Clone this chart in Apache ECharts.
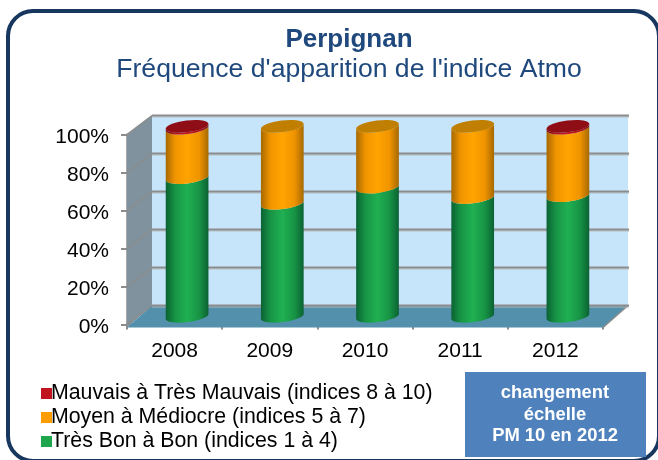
<!DOCTYPE html>
<html>
<head>
<meta charset="utf-8">
<style>
  html, body { margin: 0; padding: 0; background: #fff; }
  #chart { width: 658px; height: 460px; }
</style>
<script src="https://cdn.jsdelivr.net/npm/echarts@6/dist/echarts.min.js"></script>
</head>
<body>
<div id="chart"></div>
<script>
// valeurs (%)
const years = ['2008', '2009', '2010', '2011', '2012']
const tresBon = [73, 59.5, 68, 62.5, 63.5]
const moyen = [26, 40.5, 32, 37.5, 35.5]
const mauvais = [1, 0, 0, 0, 1]
const yTicks = [0, 20, 40, 60, 80, 100]

const FONT = '"Liberation Sans", Arial, sans-serif'
// décalage de la perspective (mur du fond par rapport au plan avant)
const DEPTH_X = 25
const DEPTH_Y = -19
const AXIS_GREY = '#8c8c8c'

const chart = echarts.init(document.getElementById('chart'))

// fond 3D : mur gauche, mur du fond, sol
const renderWalls = (params, api) => {
  const g = params.coordSys
  const x0 = g.x, x1 = g.x + g.width, yTop = g.y, yBot = g.y + g.height
  const poly = (points, fill) => ({ type: 'polygon', shape: { points }, style: { fill } })
  return {
    type: 'group',
    children: [
      poly([[x0, yTop], [x0 + DEPTH_X, yTop + DEPTH_Y], [x0 + DEPTH_X, yBot + DEPTH_Y], [x0, yBot + 3]], '#7f929e'),
      poly([[x0 + DEPTH_X, yTop + DEPTH_Y], [x1 + DEPTH_X, yTop + DEPTH_Y], [x1 + DEPTH_X, yBot + DEPTH_Y], [x0 + DEPTH_X, yBot + DEPTH_Y]], '#c6e4fa'),
      poly([[x0 + DEPTH_X, yBot + DEPTH_Y], [x1 + DEPTH_X, yBot + DEPTH_Y], [x1, yBot + 3], [x0, yBot + 3]], '#5290ac'),
      {
        type: 'line',
        shape: { x1: x1 + DEPTH_X, y1: yBot + DEPTH_Y, x2: x1, y2: yBot + 3 },
        style: { stroke: AXIS_GREY, lineWidth: 1.5 }
      }
    ]
  }
}

// lignes de grille sur le mur gauche et le mur du fond
const renderGridLine = (params, api) => {
  const g = params.coordSys
  const y = api.coord([0, api.value(0)])[1]
  const x0 = g.x, x1 = g.x + g.width
  const line = (a, b, c, w) => ({
    type: 'line',
    shape: { x1: a[0], y1: a[1], x2: b[0], y2: b[1] },
    style: { stroke: c, lineWidth: w }
  })
  const by = y + DEPTH_Y
  return {
    type: 'group',
    children: [
      line([x0 + DEPTH_X, by + 1.5], [x1 + DEPTH_X + 1, by + 1.5], '#b4bcc2', 1),
      line([x0 + DEPTH_X, by], [x1 + DEPTH_X + 1, by], AXIS_GREY, 2),
      line([x0, y], [x0 + DEPTH_X, by], AXIS_GREY, 1.5)
    ]
  }
}

// tronçon de cylindre entre deux valeurs empilées
const cylinder = (colors, topColor) => (params, api) => {
  const base = api.value(1), top = api.value(2)
  if (top <= base) return null
  const cat = api.value(0)
  const bandW = api.size([1, 0])[0]
  const rx = bandW * 0.226, ry = 5.8, rot = -7
  const dx = DEPTH_X / 2, dy = DEPTH_Y * 0.43
  const pb = api.coord([cat, base])
  const pt = api.coord([cat, top])
  const cx = pb[0] + dx
  const yb = pb[1] + dy, yt = pt[1] + dy
  const ex = rx * Math.cos(rot * Math.PI / 180)
  const ey = rx * Math.sin(rot * Math.PI / 180)
  const body = 'M' + (cx - ex) + ' ' + (yt - ey)
    + ' L' + (cx - ex) + ' ' + (yb - ey)
    + ' A' + rx + ' ' + ry + ' ' + rot + ' 0 0 ' + (cx + ex) + ' ' + (yb + ey)
    + ' L' + (cx + ex) + ' ' + (yt + ey)
    + ' A' + rx + ' ' + ry + ' ' + rot + ' 0 1 ' + (cx - ex) + ' ' + (yt - ey) + ' Z'
  const children = [{
    type: 'path',
    shape: { pathData: body },
    style: {
      fill: new echarts.graphic.LinearGradient(0, 0, 1, 0, [
        { offset: 0, color: colors[0] },
        { offset: 0.22, color: colors[1] },
        { offset: 0.5, color: colors[2] },
        { offset: 0.78, color: colors[1] },
        { offset: 1, color: colors[0] }
      ])
    }
  }]
  if (topColor && (api.value(3) === 1)) {
    children.push({
      type: 'ellipse',
      shape: { cx: 0, cy: 0, rx, ry },
      x: cx, y: yt,
      rotation: -rot * Math.PI / 180,
      style: { fill: topColor }
    })
  }
  return { type: 'group', children }
}

// données empilées : [catégorie, début, fin, dessus visible]
const greenData = years.map((y, i) => [i, 0, tresBon[i], 0])
const orangeData = years.map((y, i) => [i, tresBon[i], tresBon[i] + moyen[i], mauvais[i] === 0 ? 1 : 0])
const redData = years.map((y, i) => [i, tresBon[i] + moyen[i], tresBon[i] + moyen[i] + mauvais[i], 1])

const option = {
  animation: false,
  title: {
    text: 'Perpignan',
    subtext: "Fréquence d'apparition de l'indice Atmo",
    left: 344,
    top: 22,
    textAlign: 'center',
    itemGap: 3,
    textStyle: { fontFamily: FONT, fontSize: 26, fontWeight: 'bold', color: '#1f497d' },
    subtextStyle: { fontFamily: FONT, fontSize: 26.6, color: '#1f497d' }
  },
  grid: { left: 127, right: 55, top: 134.5, bottom: 135.5 },
  xAxis: {
    type: 'category',
    data: years,
    offset: 3,
    axisLine: { lineStyle: { color: AXIS_GREY, width: 2.5 } },
    axisTick: { show: true, length: 5, alignWithLabel: false, lineStyle: { color: AXIS_GREY, width: 2 } },
    axisLabel: { fontFamily: FONT, fontSize: 21, color: '#000', margin: 13 }
  },
  yAxis: {
    type: 'value',
    min: 0,
    max: 100,
    interval: 20,
    splitLine: { show: false },
    axisLine: { show: true, lineStyle: { color: AXIS_GREY, width: 2.5 } },
    axisTick: { show: true, length: 6, lineStyle: { color: AXIS_GREY, width: 2 } },
    axisLabel: { fontFamily: FONT, fontSize: 21, color: '#000', margin: 18, verticalAlign: 'top', lineHeight: 5, formatter: '{value}%' }
  },
  legend: {
    orient: 'vertical',
    left: 36,
    top: 378,
    itemWidth: 11,
    itemHeight: 11,
    itemGap: 3,
    icon: 'rect',
    data: ['Mauvais à Très Mauvais (indices 8 à 10)', 'Moyen à Médiocre (indices 5 à 7)', 'Très Bon à Bon (indices 1 à 4)'],
    textStyle: { fontFamily: FONT, fontSize: 21.3, color: '#000', padding: [0, 0, 0, -6] }
  },
  graphic: [
    { type: 'rect', shape: { x: 8, y: 11, width: 651, height: 450, r: 25 }, style: { fill: 'none', stroke: '#17375e', lineWidth: 4 }, z: -1 },
    { type: 'rect', shape: { x: 465, y: 372, width: 181, height: 85 }, style: { fill: '#4f81bd' } },
    { type: 'text', x: 555, y: 393, style: { text: 'changement', fill: '#fff', font: 'bold 18.4px ' + FONT, textAlign: 'center', textVerticalAlign: 'middle' } },
    { type: 'text', x: 555, y: 415, style: { text: 'échelle', fill: '#fff', font: 'bold 18.4px ' + FONT, textAlign: 'center', textVerticalAlign: 'middle' } },
    { type: 'text', x: 555, y: 436, style: { text: 'PM 10 en 2012', fill: '#fff', font: 'bold 18.4px ' + FONT, textAlign: 'center', textVerticalAlign: 'middle' } }
  ],
  series: [
    { type: 'custom', silent: true, z: 1, clip: false, data: [[0]], renderItem: renderWalls },
    { type: 'custom', silent: true, z: 2, clip: false, data: yTicks.map(v => [v]), encode: { y: 0 }, renderItem: renderGridLine },
    {
      name: 'Très Bon à Bon (indices 1 à 4)',
      type: 'custom', silent: true, z: 3, clip: false,
      itemStyle: { color: '#1ea64c' },
      data: greenData,
      encode: { x: 0, y: 2 },
      renderItem: cylinder(['#0a6132', '#179445', '#20b052'], null)
    },
    {
      name: 'Moyen à Médiocre (indices 5 à 7)',
      type: 'custom', silent: true, z: 4, clip: false,
      itemStyle: { color: '#ff9c00' },
      data: orangeData,
      encode: { x: 0, y: 2 },
      renderItem: cylinder(['#a56800', '#f09400', '#ffa400'], '#c07f00')
    },
    {
      name: 'Mauvais à Très Mauvais (indices 8 à 10)',
      type: 'custom', silent: true, z: 5, clip: false,
      itemStyle: { color: '#c0151f' },
      data: redData,
      encode: { x: 0, y: 2 },
      renderItem: cylinder(['#7a0a10', '#b5141c', '#c0151f'], '#8f0e16')
    }
  ]
}

chart.setOption(option)
</script>
</body>
</html>
